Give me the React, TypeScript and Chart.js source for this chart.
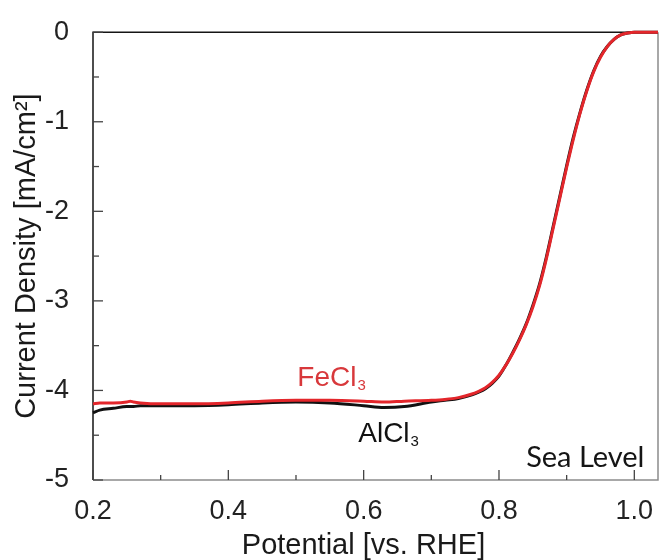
import { useEffect, useRef } from 'react';
import { Chart, registerables } from 'chart.js';
Chart.register(...registerables);

// Potential [V vs. RHE]
const potential = [
  0.20, 0.21, 0.23, 0.25, 0.255, 0.26, 0.27, 0.30,
  0.35, 0.40, 0.45, 0.50, 0.55, 0.60, 0.63, 0.66,
  0.70, 0.72, 0.74, 0.76, 0.77, 0.78, 0.79, 0.80, 0.81,
  0.82, 0.83, 0.84, 0.85, 0.86, 0.87, 0.88, 0.89,
  0.90, 0.91, 0.92, 0.93, 0.94, 0.95, 0.96, 0.97,
  0.98, 0.99, 1.00, 1.035,
];

// Current density [mA/cm2], FeCl3
const feCl3 = [
  -4.15, -4.14, -4.14, -4.13, -4.12, -4.13, -4.14, -4.15,
  -4.15, -4.14, -4.12, -4.11, -4.11, -4.12, -4.13, -4.12,
  -4.11, -4.10, -4.08, -4.04, -4.01, -3.97, -3.91, -3.83, -3.72,
  -3.59, -3.44, -3.27, -3.07, -2.83, -2.53, -2.19, -1.85,
  -1.51, -1.19, -0.90, -0.65, -0.44, -0.28, -0.16, -0.08,
  -0.03, -0.01, 0, 0,
];

// Current density [mA/cm2], AlCl3
const alCl3 = [
  -4.25, -4.22, -4.20, -4.18, -4.18, -4.18, -4.17, -4.17,
  -4.17, -4.16, -4.14, -4.13, -4.14, -4.17, -4.19, -4.18,
  -4.13, -4.11, -4.09, -4.05, -4.02, -3.98, -3.92, -3.84, -3.72,
  -3.58, -3.43, -3.26, -3.05, -2.81, -2.51, -2.17, -1.83,
  -1.49, -1.17, -0.89, -0.64, -0.43, -0.27, -0.16, -0.08,
  -0.03, -0.01, 0, 0,
];

const xTicks = [0.2, 0.4, 0.6, 0.8, 1.0];
const xMinorTicks = [0.3, 0.5, 0.7, 0.9];
const yTicks = [0, -1, -2, -3, -4, -5];
const yMinorTicks = [-0.5, -1.5, -2.5, -3.5, -4.5];

const xTitle = 'Potential [vs. RHE]';
const yTitle = 'Current Density [mA/cm²]';

const FONT = '"Liberation Sans", Arial, sans-serif';

const annotations = [
  { text: 'FeCl', sub: '3', x: 0.502, y: -3.95, color: '#d8383b', align: 'left', font: '28px ' + FONT },
  { text: 'AlCl', sub: '3', x: 0.592, y: -4.58, color: '#111111', align: 'left', font: '28px ' + FONT },
  { text: 'Sea Level', sub: '', x: 1.015, y: -4.85, color: '#151515', align: 'right', font: '29px Lato, "Open Sans", sans-serif' },
];

const framePlugin = {
  id: 'frameTicks',
  beforeDatasetsDraw(chart: any) {
    const { ctx, chartArea, scales } = chart;
    const { left, right, top, bottom } = chartArea;
    const xs = scales.x;
    const ys = scales.y;
    ctx.save();
    ctx.lineWidth = 1.5;
    ctx.strokeStyle = '#8c8c8c';
    ctx.beginPath();
    ctx.moveTo(left, bottom);
    ctx.lineTo(right, bottom);
    ctx.lineTo(right, top);
    ctx.stroke();
    ctx.strokeStyle = '#151515';
    ctx.beginPath();
    ctx.moveTo(left, bottom);
    ctx.lineTo(left, top);
    ctx.lineTo(right, top);
    ctx.stroke();

    ctx.strokeStyle = '#444';
    ctx.lineWidth = 1.3;
    const seg = (x1: number, y1: number, x2: number, y2: number) => {
      ctx.beginPath();
      ctx.moveTo(x1, y1);
      ctx.lineTo(x2, y2);
      ctx.stroke();
    };
    xTicks.forEach((v) => { const p = xs.getPixelForValue(v); seg(p, bottom, p, bottom - 10); });
    xMinorTicks.forEach((v) => { const p = xs.getPixelForValue(v); seg(p, bottom, p, bottom - 5); });
    yTicks.forEach((v) => { const p = ys.getPixelForValue(v); seg(left, p, left + 10, p); });
    yMinorTicks.forEach((v) => { const p = ys.getPixelForValue(v); seg(left, p, left + 6, p); });
    ctx.restore();
  },
  afterDatasetsDraw(chart: any) {
    const { ctx, chartArea, scales } = chart;
    const xs = scales.x;
    const ys = scales.y;
    ctx.save();
    annotations.forEach((a) => {
      const px = xs.getPixelForValue(a.x);
      const py = ys.getPixelForValue(a.y);
      ctx.fillStyle = a.color;
      ctx.font = a.font;
      ctx.textBaseline = 'alphabetic';
      ctx.textAlign = a.align;
      ctx.fillText(a.text, px, py);
      if (a.sub) {
        const w = ctx.measureText(a.text).width;
        ctx.font = '15px ' + FONT;
        ctx.textAlign = 'left';
        ctx.fillText(a.sub, px + w + 1, py + 4);
      }
    });
    // x axis title
    ctx.fillStyle = '#1a1a1a';
    ctx.font = '29px ' + FONT;
    ctx.textAlign = 'center';
    ctx.textBaseline = 'alphabetic';
    ctx.fillText(xTitle, (chartArea.left + chartArea.right) / 2 - 12, 554);
    ctx.restore();
  },
};

export default function App() {
  const canvasRef = useRef<HTMLCanvasElement | null>(null);

  useEffect(() => {
    const canvas = canvasRef.current;
    if (!canvas) return;
    const chart = new Chart(canvas, {
      type: 'line',
      data: {
        datasets: [
          {
            label: 'FeCl3',
            data: potential.map((x, i) => ({ x, y: feCl3[i] })),
            borderColor: '#e3262b',
            borderWidth: 3,
            pointRadius: 0,
            cubicInterpolationMode: 'monotone',
            clip: 4,
            order: 0,
          },
          {
            label: 'AlCl3',
            data: potential.map((x, i) => ({ x, y: alCl3[i] })),
            borderColor: '#111111',
            borderWidth: 3,
            pointRadius: 0,
            cubicInterpolationMode: 'monotone',
            clip: 4,
            order: 1,
          },
        ],
      },
      options: {
        animation: false,
        responsive: false,
        devicePixelRatio: 1,
        layout: { padding: { left: 0, top: 27, right: 3, bottom: 0 } },
        plugins: { legend: { display: false }, tooltip: { enabled: false } },
        scales: {
          x: {
            type: 'linear',
            min: 0.2,
            max: 1.035,
            grid: { display: false },
            border: { display: false },
            afterBuildTicks: (s: any) => { s.ticks = xTicks.map((v) => ({ value: v })); },
            afterFit: (s: any) => { s.height = 80; },
            ticks: {
              color: '#222',
              font: { family: FONT, size: 27 },
              padding: 7,
              maxRotation: 0,
              callback: (v: any) => Number(v).toFixed(1),
            },
          },
          y: {
            type: 'linear',
            min: -5,
            max: 0,
            grid: { display: false },
            border: { display: false },
            afterBuildTicks: (s: any) => { s.ticks = yTicks.map((v) => ({ value: v })); },
            afterFit: (s: any) => { s.width = 93; },
            ticks: {
              color: '#222',
              font: { family: FONT, size: 27 },
              padding: 16,
              callback: (v: any) => String(v),
            },
            title: {
              display: true,
              text: yTitle,
              color: '#1a1a1a',
              font: { family: FONT, size: 29 },
              padding: { top: 10, bottom: 0 },
            },
          },
        },
      },
      plugins: [framePlugin],
    } as any);
    return () => chart.destroy();
  }, []);

  return (
    <div style={{ position: 'absolute', left: 0, top: 0, width: 661, height: 560, background: '#fff' }}>
      <canvas ref={canvasRef} width={661} height={560} />
    </div>
  );
}
